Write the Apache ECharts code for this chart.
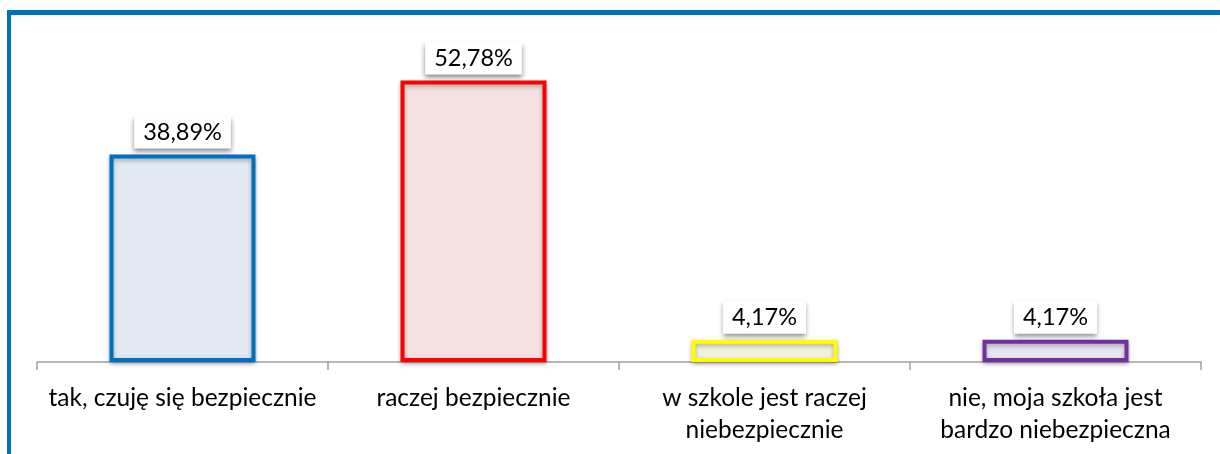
<!DOCTYPE html>
<html>
<head>
<meta charset="utf-8">
<script src="https://cdn.jsdelivr.net/npm/echarts@6/dist/echarts.min.js"></script>
<style>
    html, body { margin: 0; padding: 0; background: #fff; }
    #chart { width: 1220px; height: 454px; }
</style>
</head>
<body>
<div id="chart"></div>
<script>
var categories = ['tak, czuję się bezpiecznie', 'raczej bezpiecznie', 'w szkole jest raczej\nniebezpiecznie', 'nie, moja szkoła jest\nbardzo niebezpieczna'];
var values = [38.89, 52.78, 4.17, 4.17];
var borderColors = ['#0070C0', '#FF0000', '#FFFF00', '#7030A0'];
var fillColors = ['#E1E8F1', '#F4E1E0', '#F1F2DC', '#E9E5EE'];

var chartDom = document.getElementById('chart');
var myChart = echarts.init(chartDom);

var barData = values.map(function (v, i) {
    return {
        value: v,
        itemStyle: {
            color: fillColors[i],
            borderColor: borderColors[i]
        }
    };
});

var option = {
    animation: false,
    textStyle: {
        fontFamily: 'Lato'
    },
    grid: {
        left: 37,
        right: 19,
        top: 42,
        bottom: 92
    },
    graphic: [
        {
            type: 'line',
            shape: { x1: 7, y1: 12.5, x2: 1220, y2: 12.5 },
            style: { stroke: '#0070C0', lineWidth: 5 }
        },
        {
            type: 'line',
            shape: { x1: 9, y1: 10, x2: 9, y2: 454 },
            style: { stroke: '#0070C0', lineWidth: 4 }
        }
    ],
    xAxis: {
        type: 'category',
        data: categories,
        axisLine: {
            lineStyle: { color: '#A0A0A0', width: 1.5 }
        },
        axisTick: {
            show: true,
            length: 8,
            lineStyle: { color: '#A0A0A0', width: 1.5 }
        },
        axisLabel: {
            margin: 20,
            fontSize: 24.5,
            lineHeight: 32,
            color: '#000',
            interval: 0
        }
    },
    yAxis: {
        type: 'value',
        min: 0,
        max: 60,
        show: false,
        splitLine: { show: false }
    },
    series: [
        {
            type: 'bar',
            data: barData,
            barWidth: 146,
            itemStyle: {
                borderWidth: 4,
                shadowBlur: 4,
                shadowColor: 'rgba(0,0,0,0.3)',
                shadowOffsetY: 2
            },
            label: {
                show: true,
                position: 'top',
                distance: 6,
                fontSize: 23.5,
                color: '#000',
                backgroundColor: '#fff',
                padding: [5, 9, 4, 9],
                shadowBlur: 5,
                shadowColor: 'rgba(0,0,0,0.45)',
                shadowOffsetY: 3,
                formatter: function (p) {
                    return p.value.toFixed(2).replace('.', ',') + '%';
                }
            }
        }
    ]
};
option && myChart.setOption(option);
</script>
</body>
</html>
